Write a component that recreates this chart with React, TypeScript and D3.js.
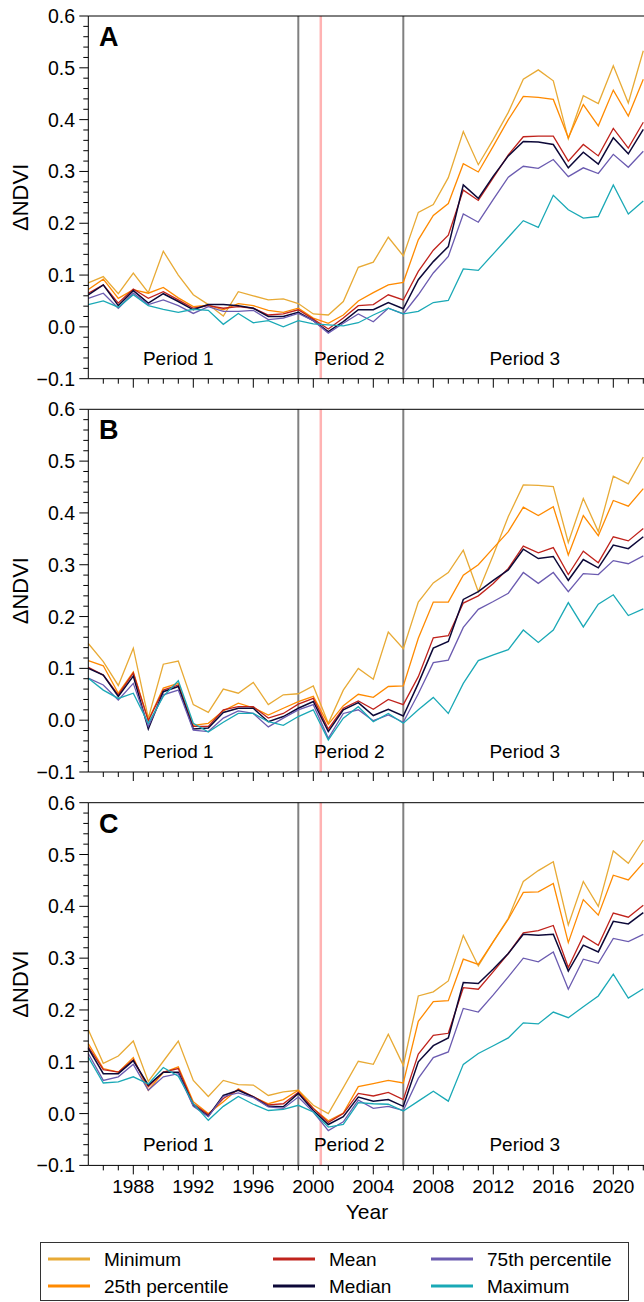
import React from "react";
import * as d3 from "d3";

const years = d3.range(1985, 2023);

const aMin = [0.085,0.097,0.064,0.104,0.066,0.146,0.100,0.062,0.043,0.021,0.068,0.060,0.052,0.054,0.045,0.025,0.023,0.049,0.115,0.125,0.173,0.137,0.221,0.236,0.288,0.377,0.313,0.362,0.414,0.478,0.496,0.475,0.363,0.446,0.431,0.504,0.432,0.533];
const aP25 = [0.072,0.092,0.055,0.072,0.065,0.076,0.056,0.039,0.042,0.033,0.045,0.041,0.032,0.028,0.036,0.017,0.007,0.023,0.050,0.066,0.081,0.086,0.168,0.215,0.238,0.315,0.299,0.349,0.400,0.445,0.443,0.439,0.365,0.429,0.388,0.457,0.407,0.478];
const aMean = [0.065,0.081,0.046,0.073,0.055,0.068,0.052,0.036,0.041,0.036,0.039,0.036,0.023,0.025,0.033,0.015,-0.004,0.017,0.041,0.043,0.062,0.052,0.107,0.148,0.177,0.264,0.244,0.288,0.332,0.367,0.368,0.368,0.320,0.352,0.330,0.383,0.345,0.395];
const aMedian = [0.062,0.081,0.041,0.070,0.046,0.064,0.049,0.033,0.043,0.043,0.041,0.036,0.020,0.020,0.028,0.012,-0.009,0.010,0.033,0.033,0.047,0.035,0.091,0.126,0.155,0.274,0.248,0.291,0.330,0.358,0.357,0.352,0.307,0.337,0.314,0.365,0.334,0.381];
const aP75 = [0.055,0.065,0.036,0.065,0.043,0.052,0.041,0.026,0.039,0.030,0.030,0.032,0.014,0.017,0.026,0.012,-0.012,0.007,0.025,0.010,0.036,0.025,0.062,0.104,0.136,0.218,0.202,0.246,0.289,0.310,0.306,0.323,0.290,0.307,0.296,0.333,0.308,0.339];
const aMax = [0.043,0.050,0.038,0.062,0.041,0.034,0.028,0.034,0.032,0.005,0.026,0.008,0.012,0.000,0.012,0.006,0.004,0.002,0.008,0.023,0.036,0.025,0.030,0.047,0.051,0.112,0.109,0.141,0.173,0.205,0.192,0.254,0.226,0.210,0.213,0.274,0.218,0.243];

const bMin = [0.148,0.113,0.067,0.139,0.004,0.108,0.114,0.030,0.015,0.060,0.052,0.073,0.030,0.049,0.051,0.066,-0.006,0.058,0.100,0.079,0.170,0.138,0.228,0.265,0.285,0.328,0.248,0.319,0.393,0.454,0.453,0.451,0.343,0.428,0.364,0.471,0.456,0.508];
const bP25 = [0.115,0.105,0.052,0.093,0.000,0.062,0.071,-0.010,-0.006,0.018,0.033,0.024,0.010,0.023,0.036,0.046,-0.008,0.028,0.050,0.044,0.065,0.066,0.158,0.228,0.228,0.280,0.300,0.332,0.364,0.411,0.395,0.412,0.319,0.395,0.356,0.424,0.413,0.447];
const bMean = [0.102,0.087,0.049,0.091,-0.001,0.058,0.068,-0.012,-0.012,0.020,0.026,0.026,0.004,0.013,0.031,0.042,-0.017,0.023,0.037,0.021,0.040,0.030,0.084,0.159,0.163,0.226,0.240,0.264,0.293,0.336,0.323,0.333,0.281,0.326,0.304,0.354,0.346,0.370];
const bMedian = [0.100,0.087,0.046,0.085,-0.017,0.055,0.065,-0.017,-0.015,0.015,0.023,0.023,-0.003,0.007,0.023,0.036,-0.022,0.020,0.034,0.009,0.021,0.008,0.071,0.139,0.152,0.233,0.248,0.270,0.290,0.330,0.312,0.316,0.270,0.310,0.294,0.338,0.331,0.354];
const bP75 = [0.081,0.068,0.039,0.071,-0.012,0.049,0.058,-0.019,-0.022,0.004,0.018,0.013,-0.013,0.004,0.020,0.030,-0.035,0.013,0.020,-0.001,0.010,-0.004,0.051,0.111,0.116,0.179,0.214,0.229,0.245,0.285,0.264,0.285,0.248,0.283,0.281,0.308,0.302,0.317];
const bMax = [0.081,0.058,0.042,0.052,-0.006,0.046,0.076,-0.006,-0.023,-0.004,0.013,0.013,-0.003,-0.010,0.007,0.020,-0.038,0.004,0.026,-0.003,0.013,-0.006,0.020,0.044,0.013,0.071,0.115,0.126,0.136,0.174,0.150,0.174,0.227,0.180,0.224,0.242,0.202,0.215];

const cMin = [0.162,0.097,0.111,0.140,0.062,0.101,0.140,0.064,0.033,0.064,0.056,0.055,0.035,0.042,0.045,0.016,0.000,0.050,0.101,0.095,0.153,0.093,0.227,0.235,0.256,0.344,0.285,0.332,0.377,0.448,0.469,0.486,0.364,0.448,0.400,0.507,0.483,0.528];
const cP25 = [0.135,0.087,0.080,0.108,0.045,0.079,0.090,0.023,0.000,0.023,0.048,0.032,0.019,0.027,0.045,0.010,-0.014,0.001,0.052,0.058,0.064,0.059,0.178,0.216,0.218,0.298,0.288,0.332,0.375,0.427,0.428,0.444,0.330,0.413,0.383,0.460,0.451,0.484];
const cMean = [0.129,0.085,0.080,0.104,0.052,0.080,0.087,0.019,-0.002,0.029,0.046,0.033,0.017,0.019,0.041,0.010,-0.017,0.000,0.039,0.034,0.041,0.027,0.115,0.151,0.155,0.243,0.240,0.274,0.309,0.349,0.353,0.363,0.282,0.343,0.325,0.387,0.379,0.402];
const cMedian = [0.126,0.077,0.077,0.102,0.055,0.080,0.080,0.016,-0.005,0.035,0.045,0.032,0.014,0.013,0.039,0.006,-0.021,-0.006,0.032,0.024,0.027,0.014,0.100,0.131,0.146,0.253,0.251,0.279,0.309,0.346,0.344,0.346,0.275,0.325,0.312,0.371,0.366,0.388];
const cP75 = [0.116,0.064,0.071,0.095,0.045,0.071,0.077,0.014,-0.006,0.033,0.040,0.031,0.013,0.010,0.032,0.003,-0.033,-0.016,0.026,0.010,0.014,0.006,0.068,0.108,0.119,0.203,0.196,0.229,0.264,0.300,0.293,0.312,0.240,0.298,0.290,0.338,0.332,0.346];
const cMax = [0.109,0.059,0.061,0.071,0.057,0.089,0.072,0.019,-0.013,0.014,0.033,0.018,0.006,0.008,0.016,0.003,-0.026,-0.021,0.021,0.019,0.018,0.005,0.024,0.043,0.024,0.095,0.116,0.131,0.146,0.175,0.173,0.196,0.185,0.206,0.227,0.269,0.223,0.241];

const seriesNames = ["Minimum", "25th percentile", "Mean", "Median", "75th percentile", "Maximum"];
const seriesColors = ["#E8AA35", "#FF8A00", "#C0231C", "#0C0838", "#6B5BB0", "#1AA9B6"];
const panelLetters = ["A", "B", "C"];
const panelData = [
  [aMin, aP25, aMean, aMedian, aP75, aMax],
  [bMin, bP25, bMean, bMedian, bP75, bMax],
  [cMin, cP25, cMean, cMedian, cP75, cMax],
];
const yTicks = [-0.1, 0, 0.1, 0.2, 0.3, 0.4, 0.5, 0.6];
const xTickLabels = [1988, 1992, 1996, 2000, 2004, 2008, 2012, 2016, 2020];
const periodBreaks = [1999, 2006];
const eventYear = 2000.5;
const periodLabels = [
  { label: "Period 1", year: 1991.0 },
  { label: "Period 2", year: 2002.4 },
  { label: "Period 3", year: 2014.1 },
];

const FONT = "Liberation Sans, Arial, Helvetica, sans-serif";
const W = 644;
const H = 1302;
const left = 88.3;
const panelTops = [16, 409.3, 802.7];
const panelH = 362.7;

const x = d3.scaleLinear().domain([1985, 2022]).range([left, left + 37 * 15]);

function fmt(v: number) {
  const s = Math.abs(v).toFixed(1);
  return v < -1e-9 ? "\u2212" + s : s;
}

function Panel({ idx }: { idx: number }) {
  const top = panelTops[idx];
  const bottom = top + panelH;
  const y = d3.scaleLinear().domain([-0.1, 0.6]).range([bottom, top]);
  const line = d3
    .line<number>()
    .x((_, i) => x(years[i]))
    .y((d) => y(d));
  const minorY = d3.range(-0.1, 0.6001, 0.02);
  const minorX = d3.range(1986, 2023);
  return (
    <g>
      {periodBreaks.map((yr) => (
        <line key={yr} x1={x(yr)} x2={x(yr)} y1={top} y2={bottom} stroke="#808080" strokeWidth={2} />
      ))}
      <line x1={x(eventYear)} x2={x(eventYear)} y1={top} y2={bottom} stroke="#FFB3B3" strokeWidth={2.5} />
      {panelData[idx].map((vals, si) => (
        <path
          key={si}
          d={line(vals) || ""}
          fill="none"
          stroke={seriesColors[si]}
          strokeWidth={si === 3 ? 1.5 : 1.3}
          strokeLinejoin="miter"
        />
      ))}
      <line x1={left} x2={W} y1={top} y2={top} stroke="#000" strokeWidth={1} />
      <line x1={left} x2={left} y1={top} y2={bottom} stroke="#000" strokeWidth={1} />
      <line x1={left} x2={W} y1={bottom} y2={bottom} stroke="#000" strokeWidth={1} />
      {minorY.map((v, i) => {
        const major = i % 5 === 0;
        return (
          <line
            key={i}
            x1={left - (major ? 9 : 5)}
            x2={left}
            y1={y(v)}
            y2={y(v)}
            stroke="#000"
            strokeWidth={1}
          />
        );
      })}
      {yTicks.map((v) => (
        <text
          key={v}
          x={75}
          y={y(v)}
          dy="0.36em"
          textAnchor="end"
          fontSize={19.5}
          fontFamily={FONT}
          fill="#000"
        >
          {fmt(v)}
        </text>
      ))}
      {minorX.map((yr) => {
        const major = xTickLabels.includes(yr);
        return (
          <line
            key={yr}
            x1={x(yr)}
            x2={x(yr)}
            y1={bottom}
            y2={bottom + (major ? 9 : 5)}
            stroke="#000"
            strokeWidth={1}
          />
        );
      })}
      {idx === 2 &&
        xTickLabels.map((yr) => (
          <text
            key={yr}
            x={x(yr)}
            y={bottom + 28}
            textAnchor="middle"
            fontSize={19}
            fontFamily={FONT}
            fill="#000"
          >
            {yr}
          </text>
        ))}
      {periodLabels.map((p) => (
        <text
          key={p.label}
          x={x(p.year)}
          y={bottom - 14}
          textAnchor="middle"
          fontSize={19}
          fontFamily={FONT}
          fill="#000"
        >
          {p.label}
        </text>
      ))}
      <text x={99} y={top + 30} fontSize={27} fontWeight="bold" fontFamily={FONT} fill="#000">
        {panelLetters[idx]}
      </text>
      <text
        transform={`translate(28,${(top + bottom) / 2}) rotate(-90)`}
        textAnchor="middle"
        fontSize={22}
        fontFamily={FONT}
        fill="#000"
      >
        ΔNDVI
      </text>
    </g>
  );
}

const legendCols = [48, 273, 431];
const legendRows = [1259, 1286];

export default function App() {
  return (
    <svg
      width={W}
      height={H}
      viewBox={`0 0 ${W} ${H}`}
      style={{ position: "absolute", left: 0, top: 0, background: "#fff" }}
    >
      <rect x={0} y={0} width={W} height={H} fill="#fff" />
      {[0, 1, 2].map((i) => (
        <Panel key={i} idx={i} />
      ))}
      <text x={367} y={1219} textAnchor="middle" fontSize={21} fontFamily={FONT} fill="#000">
        Year
      </text>
      <rect x={40.5} y={1242.5} width={588} height={58} fill="none" stroke="#333" strokeWidth={1} />
      {seriesNames.map((name, i) => {
        const col = Math.floor(i / 2);
        const row = i % 2;
        const lx = legendCols[col];
        const ly = legendRows[row];
        return (
          <g key={name}>
            <line x1={lx} x2={lx + 42} y1={ly} y2={ly} stroke={seriesColors[i]} strokeWidth={3} />
            <text x={lx + 56} y={ly} dy="0.36em" fontSize={19} fontFamily={FONT} fill="#000">
              {name}
            </text>
          </g>
        );
      })}
    </svg>
  );
}
